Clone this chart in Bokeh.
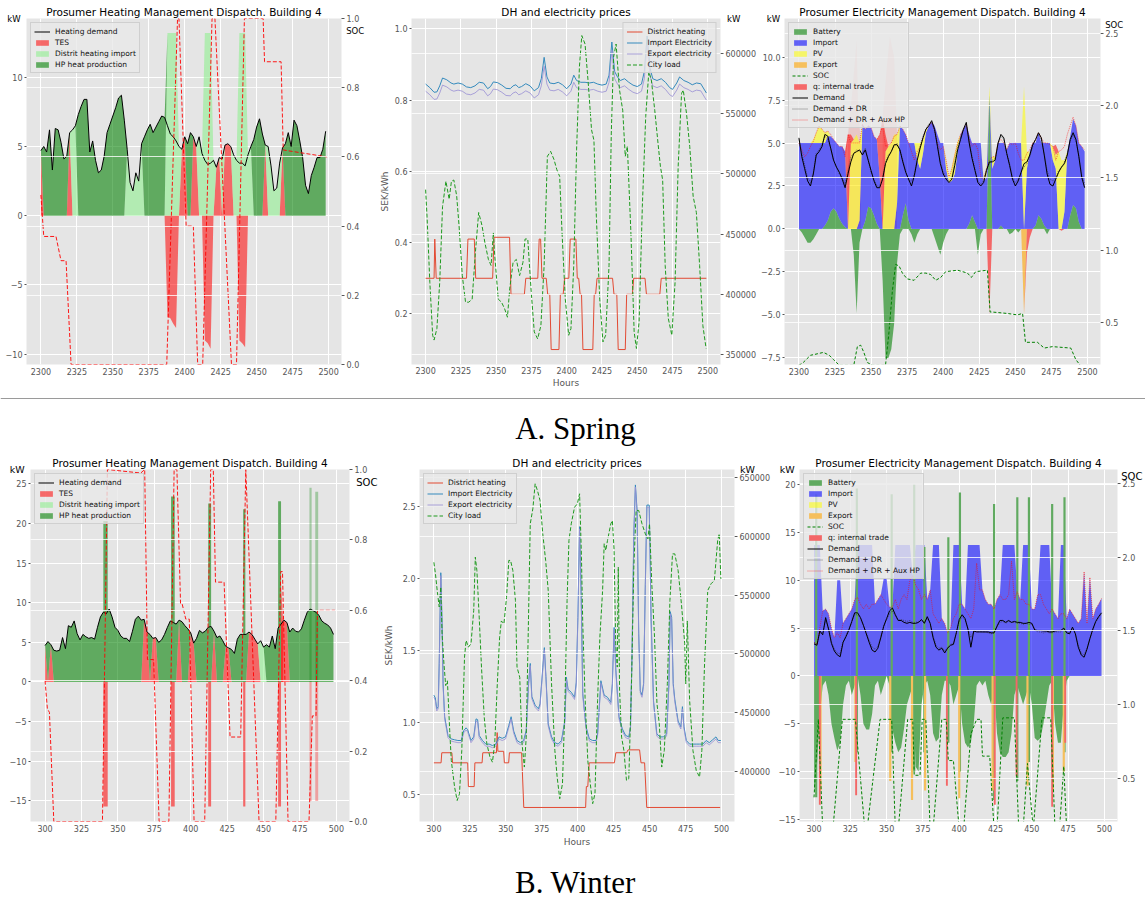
import numpy as np
from bokeh.plotting import figure
from bokeh.models import Range1d, LinearAxis, FixedTicker, Grid, Label, Legend, LegendItem, Span
from bokeh.layouts import column, row
from bokeh.embed import file_html
from bokeh.resources import INLINE

FONT = "DejaVu Sans"
BG = "#E5E5E5"
TICK_C = "#555555"

# ======================= DATA : SPRING =======================
sp_hours = list(range(2300, 2500, 2))

sp_heat_demand = [
    4.7, 5.0, 4.6, 6.2, 3.3, 6.3, 6.2, 5.3, 4.1, 4.3,
    6.0, 6.2, 6.5, 7.3, 7.9, 8.4, 8.4, 4.6, 5.4, 4.0,
    3.1, 3.3, 4.3, 6.0, 6.6, 7.2, 7.8, 8.5, 8.7, 6.9,
    4.8, 2.4, 1.8, 3.1, 2.5, 5.2, 5.7, 6.2, 6.6, 6.0,
    6.4, 6.8, 7.2, 7.1, 6.5, 5.9, 5.7, 5.4, 5.0, 4.8,
    5.7, 5.2, 6.0, 5.7, 5.0, 5.7, 4.5, 4.0, 3.7, 3.8,
    4.0, 3.5, 4.2, 4.1, 5.1, 5.2, 5.0, 4.4, 4.0, 3.8,
    3.8, 3.6, 4.4, 5.0, 5.5, 6.4, 7.0, 5.9, 5.1, 5.0,
    3.6, 1.8, 2.0, 3.8, 4.9, 5.2, 6.0, 5.0, 6.9, 6.5,
    5.4, 4.2, 2.2, 1.6, 2.9, 3.5, 4.2, 4.2, 4.8, 6.1]
# heat source per time step: H = heat pump, D = district heating, T = TES discharge,
# B = DH import block while TES charges
sp_heat_src = "".join([
    "T", "HHHHHHHHH", "T", "DD", "HHHHHHHHHHHHHHHHH", "DDDDDD", "HHHHHHHH",
    "BBBB", "D", "TT", "HH", "TT", "DD", "BBB", "D", "TT", "D", "TTT", "DD",
    "BBB", "DD", "HHHH", "T", "DDDDD", "T", "HHHHHHHHHHHHHHH"])
sp_dh_block = [13.2, 13.2, 13.2, 13.2, 13.2, 13.2, 13.2, 13.2, 13.2, 13.2]
sp_tes_charge = [-7.3, -7.4, -7.8, -8.1, -9.0, -9.2, -9.6, -9.0, -9.2, -9.5]
sp_heat_soc_h = [2300, 2302, 2310.5, 2314, 2317.5, 2321, 2387.5, 2395, 2396, 2401, 2406, 2409,
                 2412.5, 2419, 2421, 2432.5, 2436, 2441.5, 2454.5, 2455.5, 2467, 2468.5, 2499]
sp_heat_soc = [0.49, 0.37, 0.37, 0.30, 0.30, 0.0, 0.0, 1.0, 1.0, 0.40, 0.40, 0.0,
               0.0, 1.0, 1.0, 0.0, 0.0, 1.0, 1.0, 0.875, 0.875, 0.62, 0.60]

sp_dh_price_h = [2300, 2306, 2306.5, 2307.5, 2308, 2329, 2330, 2334.5, 2335.5, 2347.5, 2348.5, 2359.5,
                 2360.5, 2370, 2371, 2379.5, 2380.5, 2381.5, 2382.5, 2385.5, 2386.5, 2388, 2389, 2394.5,
                 2395.5, 2397.5, 2398.5, 2401.5, 2402.5, 2406.5, 2407.5, 2408.5, 2409.5, 2410.5, 2411.5,
                 2418.5, 2419.5, 2420.5, 2421.5, 2432.5, 2433.5, 2435.5, 2436.5, 2441.5, 2442.5, 2446.5,
                 2447.5, 2455.5, 2456.5, 2466, 2467, 2499]
sp_dh_price = [0.30, 0.30, 0.41, 0.30, 0.30, 0.30, 0.41, 0.41, 0.30, 0.30, 0.415, 0.415,
               0.255, 0.255, 0.30, 0.30, 0.41, 0.41, 0.30, 0.30, 0.255, 0.255, 0.10, 0.10,
               0.255, 0.255, 0.30, 0.30, 0.41, 0.41, 0.30, 0.30, 0.255, 0.255, 0.10,
               0.10, 0.255, 0.255, 0.30, 0.30, 0.255, 0.255, 0.10, 0.10, 0.255, 0.255,
               0.30, 0.30, 0.255, 0.255, 0.30, 0.30]
sp_el_price_h = [2300, 2303, 2306, 2308, 2310, 2312, 2315, 2318, 2320, 2323, 2326, 2329, 2332, 2335,
                 2338, 2341, 2344, 2346, 2348, 2351, 2354, 2357, 2360, 2362, 2364, 2366, 2368, 2371,
                 2374, 2377, 2380, 2382, 2384, 2386, 2388, 2391, 2394, 2397, 2400, 2403, 2405, 2407,
                 2410, 2413, 2416, 2419, 2422, 2425, 2428, 2430, 2432, 2434, 2436, 2438, 2441, 2444,
                 2447, 2450, 2453, 2455, 2457, 2459, 2461, 2464, 2467, 2470, 2473, 2475, 2478, 2480,
                 2483, 2486, 2489, 2492, 2495, 2499]
sp_import_price = [0.845, 0.835, 0.822, 0.823, 0.840, 0.862, 0.857, 0.848, 0.845, 0.848, 0.845, 0.837,
                   0.835, 0.840, 0.850, 0.848, 0.832, 0.838, 0.851, 0.849, 0.842, 0.833, 0.832, 0.840,
                   0.843, 0.835, 0.838, 0.846, 0.840, 0.826, 0.835, 0.860, 0.920, 0.865, 0.848, 0.846,
                   0.850, 0.843, 0.832, 0.845, 0.870, 0.855, 0.850, 0.850, 0.848, 0.850, 0.845, 0.842,
                   0.845, 0.870, 0.963, 0.880, 0.865, 0.855, 0.860, 0.850, 0.842, 0.838, 0.845, 0.880,
                   0.980, 0.890, 0.860, 0.855, 0.860, 0.850, 0.835, 0.830, 0.848, 0.865, 0.855, 0.850,
                   0.843, 0.848, 0.846, 0.820]
sp_export_price = [0.825, 0.815, 0.802, 0.803, 0.820, 0.842, 0.837, 0.828, 0.825, 0.828, 0.825, 0.817,
                   0.815, 0.820, 0.830, 0.828, 0.812, 0.818, 0.831, 0.829, 0.822, 0.813, 0.812, 0.820,
                   0.823, 0.815, 0.818, 0.826, 0.820, 0.806, 0.815, 0.840, 0.895, 0.845, 0.828, 0.826,
                   0.830, 0.823, 0.812, 0.825, 0.850, 0.835, 0.830, 0.830, 0.828, 0.830, 0.825, 0.822,
                   0.825, 0.850, 0.940, 0.860, 0.845, 0.835, 0.840, 0.830, 0.822, 0.818, 0.825, 0.860,
                   0.955, 0.870, 0.840, 0.835, 0.840, 0.830, 0.815, 0.810, 0.828, 0.845, 0.835, 0.830,
                   0.823, 0.828, 0.826, 0.800]
sp_load_h = [2300, 2301, 2303, 2305, 2306, 2308, 2310, 2312, 2314.4, 2316.7, 2318.3, 2320, 2322, 2323.7,
             2326, 2328.3, 2330.6, 2333, 2335.3, 2337.6, 2340, 2342, 2344.5, 2346.4, 2348, 2349, 2351.5,
             2353.8, 2356, 2358, 2359.6, 2362, 2364.3, 2366.6, 2369, 2370.5, 2372.4, 2374.7, 2377,
             2379.4, 2381.7, 2384, 2386.3, 2388.6, 2391, 2393, 2395, 2396.7, 2399, 2401.4, 2403, 2405,
             2407, 2409, 2410.7, 2413, 2415.3, 2417.6, 2419.3, 2421, 2423.4, 2425.7, 2427.6, 2430,
             2431.6, 2433.2, 2435, 2437.4, 2439.7, 2441.5, 2443, 2445.5, 2447.8, 2449.4, 2451.3, 2453.6,
             2456, 2458.2, 2460, 2462.4, 2464.7, 2466.4, 2468, 2469.8, 2472, 2474.5, 2476.8, 2479,
             2481.4, 2482.6, 2484.9, 2487.2, 2489.6, 2491.9, 2494.2, 2496.5, 2498.8]
sp_load = [487000, 465000, 410000, 366000, 362000, 371500, 410000, 473000, 494000, 479000, 494000,
           495000, 482000, 457000, 415600, 393500, 393500, 396000, 435000, 468000, 457000, 443000,
           429000, 424000, 451000, 432000, 396000, 393500, 388000, 381000, 404500, 426600, 429000,
           415600, 426600, 446000, 446000, 404500, 368800, 363000, 374000, 424000, 514700, 518800,
           512000, 503600, 498000, 451000, 396000, 366000, 371500, 424000, 520000, 589000, 615000,
           608000, 575000, 536700, 528000, 465000, 396000, 360500, 366000, 424000, 534000, 597000,
           608000, 570000, 553000, 514700, 523000, 451000, 368800, 355000, 377000, 473000, 547700,
           585000, 578000, 553000, 525700, 506400, 495000, 424000, 380000, 366000, 410000, 506400,
           567000, 569700, 550400, 523000, 481600, 468000, 424000, 374000, 355000]

sp_el_demand = [
    5.3, 4.2, 3.5, 2.8, 2.5, 3.2, 4.3, 4.5, 4.8, 5.5,
    5.4, 4.7, 4.0, 3.6, 3.3, 2.9, 2.4, 3.2, 3.9, 4.4,
    4.5, 4.6, 4.3, 4.6, 4.0, 3.4, 2.8, 2.4, 2.4, 2.9,
    3.8, 4.2, 4.5, 4.9, 4.9, 4.6, 3.9, 3.3, 2.9, 2.5,
    3.1, 4.0, 4.7, 5.3, 5.8, 6.0, 6.3, 5.8, 4.8, 3.8,
    3.2, 2.9, 2.7, 2.9, 3.7, 4.6, 5.2, 5.8, 6.2, 5.0,
    4.1, 3.4, 2.7, 2.5, 2.7, 3.4, 3.9, 3.9, 4.0, 5.0,
    5.5, 5.3, 4.4, 3.7, 2.9, 2.5, 2.8, 3.3, 3.8, 3.9,
    4.3, 4.9, 5.2, 5.6, 5.3, 4.3, 3.2, 2.6, 2.5, 2.9,
    3.3, 3.6, 3.8, 4.3, 5.2, 5.6, 5.2, 4.2, 3.0, 2.4]
sp_el_dr = [
    5.2, 4.4, 3.7, 3.0, 2.7, 3.3, 4.4, 4.6, 4.9, 5.4,
    5.2, 4.7, 4.0, 3.6, 3.2, 3.0, 2.6, 3.4, 4.2, 4.4,
    4.6, 4.5, 4.4, 4.7, 4.0, 3.3, 2.9, 2.5, 2.5, 3.0,
    3.9, 4.3, 4.5, 4.8, 5.0, 4.6, 4.0, 3.4, 2.8, 2.8,
    3.2, 4.1, 4.8, 5.4, 5.8, 6.1, 6.2, 5.7, 4.9, 3.9,
    3.3, 3.0, 2.8, 3.0, 3.9, 4.8, 5.3, 5.8, 6.0, 5.1,
    4.2, 3.5, 2.8, 2.6, 2.8, 3.5, 3.8, 4.0, 4.1, 5.0,
    5.4, 5.2, 4.4, 3.8, 3.0, 2.7, 2.9, 3.3, 3.6, 3.8,
    4.2, 4.8, 5.2, 5.5, 5.2, 4.4, 3.4, 2.9, 2.8, 3.0,
    3.4, 3.6, 3.9, 4.4, 5.1, 5.5, 5.1, 4.3, 3.1, 2.6]
sp_el_aux = [
    5.0, 4.6, 4.2, 4.4, 4.8, 5.1, 5.6, 6.0, 5.8, 5.6,
    5.7, 5.5, 5.2, 5.0, 4.8, 4.8, 4.2, 5.5, 5.0, 5.0,
    5.0, 5.0, 6.1, 5.8, 6.0, 5.9, 5.4, 5.2, 5.5, 6.0,
    4.8, 4.9, 5.0, 5.4, 5.5, 6.0, 5.8, 5.5, 5.0, 4.5,
    4.0, 4.5, 4.8, 5.3, 5.8, 6.0, 6.2, 5.8, 5.0, 4.6,
    4.8, 4.0, 3.0, 3.5, 4.3, 5.0, 5.5, 5.8, 6.1, 5.2,
    4.8, 5.0, 4.6, 3.0, 2.9, 3.5, 4.0, 4.2, 4.2, 5.0,
    5.2, 5.0, 4.6, 5.0, 4.9, 5.0, 4.4, 4.0, 4.0, 4.4,
    4.6, 5.0, 5.2, 5.6, 5.3, 5.0, 5.0, 4.9, 4.8, 4.0,
    4.5, 4.6, 4.8, 5.5, 6.0, 6.5, 6.0, 5.0, 4.8, 4.6]
sp_el_battery = [
    0.0, -0.2, -0.5, -0.8, -0.8, -0.6, -0.3, 0.0, 0.0, 0.2,
    0.5, 1.0, 1.2, 1.0, 0.6, 0.3, 0.1, 0.0, 0.0, -1.5,
    -4.9, -0.8, 0.0, 0.5, 1.3, 1.2, 0.8, 0.3, 0.0, -3.0,
    -7.5, -7.5, -7.0, -5.5, -2.0, -0.3, 0.8, 1.5, 0.5, -0.3,
    -0.8, -0.3, 0.0, 0.0, 0.0, 0.0, 0.0, -0.5, -1.0, -1.5,
    -0.8, -0.3, 0.0, 0.0, 0.0, 0.0, 0.0, 0.0, 0.0, 0.3,
    0.8, 0.4, -1.5, -0.3, 0.0, 0.0, 7.8, 0.0, 0.0, 0.0,
    0.2, 0.0, 0.0, -0.3, -0.2, 0.0, -0.2, 0.0, 0.0, 0.0,
    0.0, 0.0, 0.2, 0.8, 0.6, 0.2, -0.3, 0.0, 0.0, 0.0,
    0.0, 0.0, 0.0, 0.0, 0.8, 1.4, 1.2, 0.4, 0.0, 0.0]
sp_el_import = [
    5.0, 5.0, 5.0, 5.0, 5.0, 5.0, 5.0, 5.0, 5.0, 4.8,
    4.9, 4.4, 4.0, 4.0, 4.2, 4.5, 4.4, 0.0, 0.0, 0.0,
    0.0, 0.5, 6.1, 5.3, 4.7, 4.7, 4.6, 4.9, 3.0, 0.0,
    0.0, 0.0, 0.0, 0.0, 1.5, 6.0, 5.0, 4.0, 4.5, 5.0,
    5.0, 4.0, 3.5, 4.4, 5.6, 6.0, 6.2, 6.0, 5.5, 5.0,
    5.0, 3.5, 2.7, 2.8, 3.2, 4.5, 5.5, 5.8, 6.1, 5.2,
    4.2, 4.6, 5.0, 5.0, 2.8, 3.0, 0.0, 3.5, 4.0, 5.0,
    4.8, 5.0, 4.6, 5.0, 5.0, 5.0, 5.0, 5.0, 0.0, 3.5,
    4.5, 5.0, 4.8, 4.8, 4.4, 4.8, 5.0, 5.0, 4.0, 3.5,
    0.0, 0.0, 1.0, 4.5, 4.6, 5.0, 4.8, 4.6, 4.8, 4.5]
sp_el_pv = [
    0.0, 0.0, 0.0, 0.0, 0.0, 0.2, 0.6, 1.0, 0.8, 0.6,
    0.3, 0.0, 0.0, 0.0, 0.0, 0.0, 0.0, 0.0, 5.0, 5.2,
    5.5, 4.5, 0.0, 0.0, 0.0, 0.0, 0.0, 0.0, 0.0, 0.0,
    4.5, 4.8, 5.0, 5.5, 4.0, 0.0, 0.0, 0.0, 0.0, 0.0,
    0.0, 1.0, 1.5, 0.8, 0.2, 0.0, 0.0, 0.0, 0.0, 0.0,
    0.0, 0.5, 0.3, 0.8, 1.2, 0.6, 0.0, 0.0, 0.0, 0.0,
    0.0, 0.0, 0.0, 0.0, 0.2, 0.5, 0.5, 0.7, 0.2, 0.0,
    0.0, 0.0, 0.0, 0.0, 0.0, 0.0, 0.0, 0.0, 8.3, 1.0,
    0.0, 0.0, 0.0, 0.0, 0.0, 0.0, 0.0, 0.0, 0.8, 0.8,
    4.5, 4.0, 3.0, 0.0, 0.0, 0.0, 0.0, 0.0, 0.0, 0.0]
sp_el_trade = [
    0.0, 0.0, 0.0, 0.0, 0.0, 0.0, 0.0, 0.0, 0.0, 0.0,
    0.0, 0.0, 0.0, 0.0, 0.0, 0.0, 0.0, 5.5, 0.5, 0.0,
    0.0, 0.0, 0.0, 0.0, 0.0, 0.0, 0.0, 0.0, 2.5, 6.5,
    1.0, 0.0, 0.0, 0.0, 0.0, 0.0, 0.0, 0.0, 0.0, 0.0,
    0.0, 0.0, 0.0, 0.0, 0.0, 0.0, 0.0, 0.0, 0.0, 0.0,
    0.0, 0.0, 0.0, 0.0, 0.0, 0.0, 0.0, 0.0, 0.0, 0.0,
    0.0, 0.0, 0.0, 0.0, 0.0, 0.0, -5.0, 0.0, 0.0, 0.0,
    0.0, 0.0, 0.0, 0.0, 0.0, 0.0, 0.0, 0.0, 0.0, -1.4,
    -0.5, 0.0, 0.0, 0.0, 0.0, 0.0, 0.0, 0.0, 0.0, 0.6,
    0.0, -0.1, 0.0, 0.0, 0.0, 0.0, 0.0, 0.0, 0.0, 0.0]
sp_el_export = [
    0.0, 0.0, 0.0, 0.0, 0.0, 0.0, 0.0, 0.0, 0.0, 0.0,
    0.0, 0.0, 0.0, 0.0, 0.0, 0.0, 0.0, 0.0, 0.0, 0.0,
    0.0, 0.0, 0.0, 0.0, 0.0, 0.0, 0.0, 0.0, 0.0, 0.0,
    0.0, 0.0, 0.0, 0.0, 0.0, 0.0, 0.0, 0.0, 0.0, 0.0,
    0.0, 0.0, 0.0, 0.0, 0.0, 0.0, 0.0, 0.0, 0.0, 0.0,
    0.0, 0.0, 0.0, 0.0, 0.0, 0.0, 0.0, 0.0, 0.0, 0.0,
    0.0, 0.0, 0.0, 0.0, 0.0, 0.0, 0.0, 0.0, 0.0, 0.0,
    0.0, 0.0, 0.0, 0.0, 0.0, 0.0, 0.0, 0.0, -5.0, 0.0,
    0.0, 0.0, 0.0, 0.0, 0.0, 0.0, 0.0, 0.0, 0.0, 0.0,
    0.0, 0.0, 0.0, 0.0, 0.0, 0.0, 0.0, 0.0, 0.0, 0.0]
sp_ghost1_h = [2334, 2337, 2340, 2341, 2343]
sp_ghost1 = [5.5, 8.0, 11.0, 7.0, 5.0]
sp_ghost2_h = [2358, 2361, 2363, 2366, 2368]
sp_ghost2 = [6.5, 9.5, 11.2, 10.0, 5.5]
sp_el_soc_h = [2300, 2303, 2308, 2310.5, 2317, 2321, 2324, 2328, 2338, 2340.5, 2342.8, 2345, 2347.4,
               2351, 2360, 2362.4, 2364.7, 2367, 2369.4, 2371.7, 2375, 2379.8, 2384.4, 2388, 2391.3,
               2394.8, 2398.3, 2401.7, 2410, 2416.8, 2419.5, 2422.5, 2430.6, 2432.5, 2434, 2444.5,
               2451.4, 2455, 2457, 2465.3, 2470, 2475.7, 2488.4, 2491.9, 2495, 2499]
sp_el_soc = [0.20, 0.22, 0.27, 0.275, 0.29, 0.27, 0.24, 0.20, 0.20, 0.33, 0.34, 0.29, 0.22,
             0.20, 0.20, 0.43, 0.71, 0.90, 0.89, 0.84, 0.80, 0.79, 0.84, 0.84, 0.83,
             0.79, 0.81, 0.85, 0.86, 0.84, 0.81, 0.85, 0.86, 0.57, 0.57, 0.56,
             0.55, 0.56, 0.36, 0.36, 0.32, 0.33, 0.32, 0.24, 0.20, 0.12]

# ======================= DATA : WINTER =======================
w_hours = list(range(300, 500, 2))
w_heat_demand = [
    4.6, 5.1, 4.7, 4.0, 3.9, 4.0, 5.6, 4.2, 7.1, 6.9,
    7.7, 6.1, 5.3, 6.0, 5.7, 5.5, 5.6, 5.4, 6.9, 8.2,
    8.8, 8.6, 9.2, 8.2, 6.9, 6.5, 5.8, 5.5, 5.5, 5.1,
    6.4, 7.9, 8.3, 7.8, 7.9, 6.3, 6.0, 5.5, 5.6, 5.0,
    5.3, 6.0, 6.9, 7.7, 7.5, 7.3, 7.8, 7.6, 7.1, 6.7,
    6.2, 4.9, 5.5, 6.5, 6.2, 6.4, 6.9, 7.0, 6.4, 5.6,
    5.8, 5.2, 4.5, 4.3, 4.1, 3.6, 5.4, 6.0, 6.0, 6.0,
    6.3, 6.0, 5.4, 4.8, 5.2, 4.4, 4.7, 4.4, 5.8, 4.2,
    6.8, 7.3, 7.8, 7.5, 6.3, 6.8, 6.4, 6.3, 6.7, 7.8,
    8.8, 9.2, 9.0, 8.8, 8.4, 7.7, 7.4, 7.2, 6.8, 6.0]
w_heat_src = "".join([
    "T", "H", "T", "H", "HHHHHHHHHHHHHHHHHHHHHHHHHHHHHH", "TT", "H", "TT", "HHHHHHH", "T", "HHH",
    "TT", "HHHHHH", "T", "HHH", "TT", "HHHHHH", "TTTT", "DD", "HHHHH", "TTT", "HHHHHHHHHHHHHHHH"])
w_spike_left = [340, 386.5, 412, 436, 460, 481.5, 485.5]
w_spike_right = [343, 389, 414, 437.5, 462, 483, 487.5]
w_hp_spike_top = [20.3, 23.4, 22.5, 21.8, 22.8, 24.5, 24.0]
w_tes_spike_bottom = [-15.7, -15.7, -15.7, -15.7, -15.7, -15.0, -15.0]
w_tes_peak_h = [460.5, 461.5, 463.5]
w_tes_peak = [7.0, 13.8, 7.5]
w_heat_soc_h = [300, 301.6, 303, 306, 339.4, 342.8, 365.7, 368.4, 370.3, 374.5, 378.3, 385,
                388.6, 390.5, 393, 394, 396.6, 399, 402.3, 409.6, 413.7, 415.5, 417, 422.9,
                427, 434.3, 437.8, 446.9, 458.4, 461.8, 463, 466.8, 481.2, 483.5, 486, 487, 499]
w_heat_soc = [0.40, 0.32, 0.31, 0.0, 0.0, 1.0, 0.99, 1.0, 0.46, 0.46, 0.0, 0.0,
              1.0, 1.0, 0.62, 0.62, 0.575, 0.575, 0.0, 0.0, 1.0, 1.0, 0.68, 0.68,
              0.24, 0.24, 1.0, 0.0, 0.0, 0.71, 0.71, 0.0, 0.0, 0.30, 0.30, 0.60, 0.60]

w_dh_price_h = [300, 305, 305.5, 312.5, 313, 323.5, 324, 328, 328.5, 333.5, 334, 343.5, 344, 344.5,
                345, 348.5, 349, 352, 352.5, 361, 362.5, 405.5, 406, 407, 408, 425.5, 426.5, 434,
                435, 443, 444, 446.5, 448, 499]
w_dh_price = [0.72, 0.72, 0.79, 0.79, 0.72, 0.72, 0.555, 0.555, 0.72, 0.72, 0.79, 0.79, 0.93, 0.80,
              0.80, 0.80, 0.72, 0.72, 0.79, 0.79, 0.41, 0.41, 0.555, 0.555, 0.72, 0.72, 0.79, 0.79,
              0.81, 0.81, 0.72, 0.72, 0.41, 0.41]
w_el_price_h = [300, 301, 302, 303, 303.7, 304.8, 305.7, 306.4, 307.5, 309.8, 312, 314.4, 316.7, 319,
                320.8, 322.4, 323.5, 325.8, 327.7, 329.3, 330.4, 331.5, 333.8, 336.1, 338.4, 340.7,
                343, 345.3, 347.5, 349.8, 352.1, 353.7, 355.5, 357.8, 360.1, 362.4, 364.2, 365.8,
                367, 368.1, 370.4, 372.7, 373.8, 375.7, 376.8, 377.9, 379.5, 381.8, 384.1, 386.4,
                388.7, 391, 392.1, 393.3, 395.5, 397.8, 399, 400.1, 401.3, 402.4, 403.5, 405.8,
                408.1, 410.4, 412.7, 413.8, 415, 416.1, 418.4, 420.7, 423, 424.1, 425.3, 426.4,
                428.7, 431, 433.3, 435.5, 436.7, 437.8, 439, 440.1, 441.3, 442.4, 443.5, 444.7,
                445.8, 447, 448.1, 449.7, 451, 452.7, 455, 457.3, 459.5, 461.8, 463.4, 464.3,
                465.3, 466.4, 467.5, 469.8, 471.7, 472.8, 473.9, 475.5, 477.8, 480.1, 482.4,
                484.7, 487, 489.3, 491.5, 493.8, 496.1, 497.7, 499.5]
w_import_price = [1.19, 1.17, 1.095, 1.11, 1.41, 2.04, 1.69, 1.27, 1.04, 0.91, 0.886, 0.88, 0.875,
                  0.875, 0.944, 0.963, 0.95, 0.875, 0.90, 1.025, 1.02, 0.91, 0.875, 0.85, 0.85, 0.84,
                  0.85, 0.90, 0.89, 0.90, 0.98, 1.04, 0.94, 0.875, 0.86, 0.875, 0.944, 1.27, 1.41,
                  1.18, 1.12, 1.095, 1.13, 1.38, 1.52, 1.32, 0.99, 0.90, 0.86, 0.85, 0.875, 1.01,
                  1.315, 1.23, 1.21, 1.175, 1.28, 1.73, 2.36, 1.89, 1.20, 0.97, 0.886, 0.875, 0.875,
                  0.92, 1.11, 1.29, 1.19, 1.175, 1.14, 1.27, 1.66, 1.38, 1.04, 0.956, 0.91, 0.90,
                  0.97, 1.5, 2.31, 2.65, 2.47, 1.62, 1.22, 1.19, 1.27, 1.96, 2.51, 2.51, 1.73, 1.15,
                  0.92, 0.90, 0.90, 0.92, 1.27, 1.77, 1.73, 1.27, 1.16, 1.01, 0.97, 1.11, 0.97,
                  0.875, 0.85, 0.85, 0.85, 0.85, 0.85, 0.875, 0.86, 0.88, 0.90, 0.875, 0.875]
w_export_price = [1.175, 1.155, 1.08, 1.095, 1.395, 2.02, 1.675, 1.255, 1.025, 0.895, 0.871, 0.865,
                  0.86, 0.86, 0.929, 0.948, 0.935, 0.86, 0.885, 1.01, 1.005, 0.895, 0.86, 0.835,
                  0.835, 0.825, 0.835, 0.885, 0.875, 0.885, 0.965, 1.025, 0.925, 0.86, 0.845, 0.86,
                  0.929, 1.255, 1.395, 1.165, 1.105, 1.08, 1.115, 1.365, 1.505, 1.305, 0.975, 0.885,
                  0.845, 0.835, 0.86, 0.995, 1.3, 1.215, 1.195, 1.16, 1.265, 1.715, 2.345, 1.875,
                  1.185, 0.955, 0.871, 0.86, 0.86, 0.905, 1.095, 1.275, 1.175, 1.16, 1.125, 1.255,
                  1.645, 1.365, 1.025, 0.941, 0.895, 0.885, 0.955, 1.485, 2.295, 2.635, 2.455, 1.605,
                  1.205, 1.175, 1.255, 1.945, 2.495, 2.495, 1.715, 1.135, 0.905, 0.885, 0.885, 0.905,
                  1.255, 1.755, 1.715, 1.255, 1.145, 0.995, 0.955, 1.095, 0.955, 0.86, 0.835, 0.835,
                  0.835, 0.835, 0.835, 0.86, 0.845, 0.865, 0.885, 0.86, 0.86]
w_load_h = [300, 301.1, 302.3, 303.7, 304.8, 305.7, 307, 308.2, 309.4, 311, 312.1, 314.4, 316.2,
            317.8, 319.4, 321.3, 322.4, 324, 325.8, 327.7, 328.8, 329.9, 331.5, 333.1, 335, 336.8,
            339, 340.7, 342.3, 344.1, 345.7, 346.9, 348.7, 350.5, 352.1, 353.3, 354.9, 356.7,
            357.8, 359.7, 361.3, 362.9, 364.2, 365.8, 367, 368.8, 370.4, 372, 373.8, 375.7, 377.7,
            379.5, 381.8, 384.1, 385.7, 387.5, 389.4, 391, 392.6, 393.9, 395.5, 397.8, 399.7,
            401.3, 402.6, 403.5, 405.1, 407, 408.6, 410.4, 412, 413.8, 415.4, 417.3, 418.4, 419.5,
            420.7, 423, 424.1, 425.3, 426.4, 427.5, 428.2, 429.1, 430.5, 432.1, 433.9, 435.5,
            437.4, 439, 440.6, 442.4, 444.7, 447, 448.8, 449.9, 451.5, 453.3, 455.1, 456.7, 458.4,
            460.2, 462.3, 464.1, 465.9, 467.5, 469.8, 472.1, 474.4, 475.1, 476.2, 477.8, 480.1,
            482.4, 484.7, 486.3, 488.1, 490.4, 492.7, 495, 497.3, 498.4, 499.5]
w_load = [578000, 568000, 554000, 540000, 557000, 517000, 491500, 473000, 477000, 434700, 409000,
          386400, 375000, 380800, 417700, 497200, 511400, 505700, 508600, 537000, 582400, 571000,
          531300, 488700, 446000, 423400, 412000, 407700, 423400, 474500, 514200, 528000, 525600,
          548000, 579600, 579600, 571000, 545500, 488700, 480000, 423400, 403500, 429000, 531300,
          610800, 623600, 644900, 639200, 630700, 602300, 579600, 554000, 474500, 417700, 395000,
          376500, 389300, 451800, 545500, 596600, 610800, 625000, 627800, 636400, 582400, 525600,
          463100, 409200, 390700, 372300, 380800, 460300, 514200, 554000, 593800, 588100, 596600,
          610800, 613600, 588100, 508600, 488700, 574000, 468800, 429000, 417700, 392100, 393600,
          474500, 573900, 622200, 622200, 610800, 602300, 598000, 610800, 559700, 517100, 457400,
          440400, 403500, 417700, 474500, 545500, 585200, 585200, 571000, 542600, 508600, 474500,
          528000, 460300, 417700, 400600, 395000, 417700, 488700, 554000, 559700, 562500, 596600,
          602300, 563900]

w_el_demand = [
    3.35, 3.2, 4.7, 4.3, 6.1, 4.9, 3.4, 2.6, 2.2, 2.0,
    3.5, 4.1, 4.8, 5.7, 6.6, 6.6, 6.1, 5.3, 4.4, 3.5,
    2.7, 2.5, 2.9, 4.0, 5.2, 6.0, 6.8, 7.1, 6.4, 5.8,
    5.8, 5.6, 5.5, 5.6, 5.5, 5.5, 5.6, 5.9, 5.5, 6.2,
    5.5, 4.0, 3.0, 2.7, 2.9, 2.4, 2.9, 3.2, 3.3, 4.5,
    5.9, 6.4, 6.0, 4.9, 3.0, 4.7, 4.6, 4.6, 4.6, 4.6,
    4.6, 4.5, 4.5, 5.2, 5.8, 5.8, 5.6, 5.8, 5.6, 5.7,
    5.6, 5.6, 5.5, 5.5, 5.6, 5.5, 4.8, 4.75, 4.75, 4.7,
    4.7, 4.6, 4.6, 4.7, 4.75, 4.75, 5.0, 4.5, 4.4, 5.1,
    4.4, 3.0, 2.2, 1.95, 2.8, 3.9, 4.9, 5.7, 6.2, 6.6]
w_el_dr = [
    3.5, 3.3, 4.5, 4.5, 5.8, 5.0, 3.6, 2.8, 2.4, 2.3,
    3.6, 4.2, 4.9, 5.6, 6.4, 6.4, 6.0, 5.3, 4.5, 3.7,
    3.0, 2.8, 3.1, 4.1, 5.2, 5.9, 6.5, 6.8, 6.3, 5.8,
    5.9, 5.8, 5.7, 5.8, 5.6, 5.6, 5.7, 5.8, 5.6, 6.0,
    5.5, 4.2, 3.2, 2.9, 3.0, 2.6, 3.0, 3.3, 3.4, 4.5,
    5.7, 6.2, 5.9, 5.0, 4.0, 4.6, 4.7, 4.7, 4.6, 4.6,
    4.5, 4.4, 4.5, 5.1, 5.6, 5.7, 5.5, 5.7, 5.6, 5.6,
    5.5, 5.5, 5.4, 5.5, 5.4, 5.4, 4.9, 4.6, 4.6, 4.5,
    4.6, 4.5, 4.5, 4.6, 4.6, 4.6, 4.9, 4.6, 4.5, 4.9,
    4.4, 3.2, 2.4, 2.2, 2.9, 3.9, 4.8, 5.6, 6.1, 6.5]
w_el_aux = [
    3.5, 3.3, 5.0, 6.8, 7.0, 6.5, 5.0, 4.0, 4.5, 4.0,
    5.5, 6.0, 6.5, 7.0, 8.0, 8.2, 7.5, 7.0, 7.5, 7.0,
    7.5, 7.5, 8.0, 8.5, 8.0, 7.5, 7.2, 7.2, 8.0, 7.0,
    8.0, 8.5, 8.0, 10.0, 10.5, 9.5, 9.0, 8.0, 8.5, 8.0,
    9.0, 6.5, 6.0, 5.5, 6.0, 5.5, 4.5, 5.0, 6.0, 6.5,
    7.5, 7.5, 7.0, 6.5, 6.0, 7.0, 11.8, 9.0, 9.0, 8.0,
    7.5, 7.5, 7.0, 8.0, 8.5, 8.0, 8.0, 8.5, 12.0, 8.0,
    8.8, 8.0, 8.0, 7.5, 7.5, 7.0, 7.0, 8.5, 8.5, 7.5,
    7.0, 6.5, 7.0, 6.5, 6.0, 6.5, 6.5, 6.0, 7.0, 6.5,
    6.0, 5.5, 6.0, 10.9, 5.5, 10.3, 6.0, 7.0, 7.5, 8.1]
w_el_import = [
    13.7, 13.7, 13.7, 6.8, 7.0, 6.5, 5.0, 4.0, 10.0, 10.0,
    5.5, 6.0, 6.5, 7.0, 8.0, 13.7, 13.7, 13.7, 13.7, 13.7,
    13.7, 7.5, 8.0, 8.5, 10.2, 10.2, 7.2, 7.2, 13.7, 13.7,
    13.7, 13.7, 13.7, 13.7, 10.5, 13.7, 13.7, 13.7, 13.7, 8.0,
    9.0, 13.7, 13.7, 13.7, 6.0, 5.5, 4.5, 5.0, 13.7, 13.7,
    13.7, 7.5, 7.0, 13.7, 13.7, 13.7, 13.7, 13.7, 9.0, 8.0,
    7.5, 7.5, 7.0, 8.0, 8.5, 13.7, 13.7, 13.7, 13.7, 13.7,
    8.8, 8.0, 13.7, 13.7, 13.7, 7.0, 7.0, 8.5, 13.7, 13.7,
    13.7, 13.7, 7.0, 6.5, 6.0, 13.7, 13.7, 6.0, 7.0, 6.5,
    6.0, 5.5, 6.0, 10.9, 5.5, 10.3, 6.0, 7.0, 7.5, 8.1]
w_el_battery_charge = [
    -12.5, -9.5, -4.0, -1.0, -0.5, -2.0, -5.0, -6.5, -7.8, -7.0,
    -3.0, -1.0, -0.5, -2.0, -1.0, 0.0, -2.0, -5.0, -5.6, -5.6,
    -4.0, -1.0, -0.5, -2.0, -1.0, 0.0, -1.0, -5.6, -7.0, -8.0,
    -7.5, -5.5, -3.0, -2.0, -1.0, -9.5, -10.0, -3.0, -1.0, -0.5,
    -2.0, -6.0, -6.9, -6.5, -2.0, -0.5, -0.5, -1.0, -3.0, -2.0,
    -1.0, -5.0, -7.0, -7.5, -7.0, -5.0, -1.0, -0.5, -1.0, -0.5,
    -2.0, -3.0, -1.0, -6.0, -8.0, -8.5, -8.5, -8.0, -6.0, -2.0,
    -1.0, -2.0, -3.0, -2.0, -1.0, -3.0, -6.5, -6.8, -6.5, -5.0,
    -3.0, -1.0, -0.5, -5.0, -7.0, -7.0, -3.0, -0.5, 0.0, 0.0,
    0.0, 0.0, 0.0, 0.0, 0.0, 0.0, 0.0, 0.0, 0.0, 0.0]
w_bat_spike_h = [301.5, 329.5, 353.5, 369, 376, 392.5, 400.5, 424, 440, 448, 464, 472.5]
w_bat_spike_top = [19.0, 19.6, 19.0, 20.0, 13.5, 14.5, 19.2, 18.0, 18.7, 18.7, 18.0, 18.7]
w_bat_spike_bottom = [-12.7, -8.0, -8.0, -10.0, -8.0, -7.0, -10.0, -13.0, -11.0, -9.0, -10.0, -8.0]
w_export_spike_h = [304.5, 328.5, 352.5, 367.5, 376.5, 400, 423, 447, 464.5, 472]
w_export_spike = [-12.0, -9.0, -11.0, -13.0, -12.0, -12.8, -12.0, -11.5, -12.0, -10.0]
w_trade_spike_h = [304, 329, 391.5, 424.5, 439.5, 464, 473]
w_trade_spike = [-13.5, -12.5, -11.5, -13.5, -10.5, -13.7, -7.0]
w_el_soc_h = [300, 303, 306, 313, 319.5, 328.5, 335, 336.5, 345.5, 353.5, 356, 358, 364.5, 368,
              369, 373, 374.5, 377, 380, 382, 388, 391, 392.5, 396, 400, 403, 408, 412, 415, 416,
              421, 424, 426, 430, 438, 441, 444, 447, 451, 457, 463, 466, 469, 472, 474, 499]
w_el_soc = [0.37, 0.90, 0.15, 0.15, 0.90, 0.90, 0.15, 0.15, 0.90, 0.90, 0.15, 0.15, 0.90, 0.90,
            0.52, 0.52, 0.90, 0.90, 0.15, 0.15, 0.90, 0.90, 0.62, 0.62, 0.15, 0.15, 0.80, 0.90,
            0.90, 0.65, 0.65, 0.15, 0.15, 0.91, 0.91, 0.15, 0.15, 0.60, 0.15, 0.91, 0.91, 0.15,
            0.15, 0.58, 0.15, 0.15]

# ======================= HELPERS =======================
C_RED, C_LGREEN, C_GREEN = "#FF0000", "#90EE90", "#008000"
C_BLUE, C_YELLOW, C_ORANGE = "#0000FF", "#FFFF00", "#FFA500"
# the same colours as they appear when laid over the grey background
C_GREEN_SOLID, C_RED_SOLID, C_ORANGE_SOLID = "#60AA60", "#F36767", "#F5BF5C"


def fit(*arrs):
    n = min(len(a) for a in arrs)
    return [np.asarray(list(a)[:n], dtype=float) for a in arrs]


def key(t):
    return int(t) if float(t).is_integer() else t


def fmt(t, dec):
    return f"{t:.{dec}f}".replace("-", "\u2212")


def safe_set(obj, **kw):
    for k, v in kw.items():
        try:
            setattr(obj, k, v)
        except Exception:
            pass


def corner_label(ax, text, size, standoff):
    ax.axis_label = text
    ax.axis_label_text_font = FONT
    ax.axis_label_text_font_size = size
    ax.axis_label_text_font_style = "normal"
    ax.axis_label_text_color = "black"
    ax.axis_label_standoff = standoff
    safe_set(ax, axis_label_orientation="horizontal")
    safe_set(ax, axis_label_align="end")


def side_label(ax, text, standoff):
    ax.axis_label = text
    ax.axis_label_text_font = FONT
    ax.axis_label_text_font_size = "9px"
    ax.axis_label_text_font_style = "normal"
    ax.axis_label_text_color = TICK_C
    ax.axis_label_standoff = standoff


def make_fig(w, h, borders, title, xr, yr, yr2, xt, xdec, yt, ydec, y2t, y2dec):
    bl, br, bt, bb = borders
    p = figure(width=w, height=h, x_range=Range1d(*xr), y_range=Range1d(*yr),
               output_backend="svg", toolbar_location=None, title=title,
               min_border_left=bl, min_border_right=br, min_border_top=bt, min_border_bottom=bb)
    p.title.align = "center"
    p.title.text_font = FONT
    p.title.text_font_size = "10.5px"
    p.title.text_font_style = "normal"
    p.title.text_color = "black"
    p.title.standoff = 2
    p.extra_y_ranges = {"r": Range1d(*yr2)}
    p.background_fill_color = BG
    p.border_fill_color = "white"
    p.outline_line_color = None
    ax2 = LinearAxis(y_range_name="r")
    p.add_layout(ax2, "right")
    axes = [(p.xaxis[0], xt, xdec), (p.yaxis[0], yt, ydec), (ax2, y2t, y2dec)]
    for ax, ticks, dec in axes:
        ax.ticker = FixedTicker(ticks=ticks)
        ax.major_label_overrides = {key(t): fmt(t, dec) for t in ticks}
        ax.axis_line_color = None
        ax.minor_tick_line_color = None
        ax.major_tick_line_color = TICK_C
        ax.major_tick_line_width = 1
        ax.major_tick_in = 0
        ax.major_label_text_color = TICK_C
        ax.major_label_text_font = FONT
        ax.major_label_text_font_size = "8px"
    p.xaxis[0].major_tick_line_color = None
    p.xaxis[0].major_tick_out = 0
    p.xaxis[0].major_label_standoff = 3
    p.yaxis[0].major_tick_out = 2
    p.yaxis[0].major_label_standoff = 2
    ax2.major_tick_out = 3
    ax2.major_label_standoff = 2
    p.xgrid.ticker = FixedTicker(ticks=xt)
    p.ygrid.ticker = FixedTicker(ticks=yt)
    for g in (p.xgrid[0], p.ygrid[0]):
        g.grid_line_color = "white"
        g.grid_line_width = 1
    g2 = Grid(dimension=1, ticker=FixedTicker(ticks=y2t), y_range_name="r",
              grid_line_color="white", grid_line_width=1, grid_line_alpha=0.8, level="annotation")
    p.add_layout(g2)
    return p, p.yaxis[0], ax2


def add_legend(p, items, loc):
    lg = Legend(items=[LegendItem(label=l, renderers=[r]) for l, r in items], location=loc,
                label_text_font=FONT, label_text_font_size="7.5px", label_text_color="#111111",
                label_height=10, glyph_height=7, glyph_width=16, spacing=1, padding=3, margin=4,
                label_standoff=5, background_fill_color="#E8E8E8", background_fill_alpha=0.8,
                border_line_color="#CCCCCC", border_line_alpha=0.9, border_line_width=1)
    p.add_layout(lg)


def heat_panel(p, hours, demand, src, block_dh, block_tes):
    x, D = fit(hours, demand)
    codes = np.array(list(src.ljust(len(x), "H")[:len(x)]))
    tes = np.where(codes == "T", D, 0.0)
    dh = np.where(codes == "D", D, 0.0)
    hp = np.where(codes == "H", D, 0.0)
    neg = np.zeros_like(D)
    b = np.where(codes == "B")[0]
    nb = min(len(b), len(block_dh), len(block_tes))
    dh[b[:nb]] = np.asarray(block_dh[:nb], dtype=float)
    neg[b[:nb]] = np.asarray(block_tes[:nb], dtype=float)
    z = np.zeros_like(D)
    r_tes = p.varea(x=x, y1=z, y2=tes, fill_color=C_RED, fill_alpha=0.55)
    r_dh = p.varea(x=x, y1=tes, y2=tes + dh, fill_color=C_LGREEN, fill_alpha=0.6)
    r_hp = p.varea(x=x, y1=tes + dh, y2=tes + dh + hp, fill_color=C_GREEN, fill_alpha=0.58)
    p.varea(x=x, y1=neg, y2=z, fill_color=C_RED, fill_alpha=0.55)
    return x, D, r_tes, r_dh, r_hp


def elec_stack(p, hours, bat, imp, pv, trade, exp):
    x, bat, imp, pv, trade, exp = fit(hours, bat, imp, pv, trade, exp)
    bp, bn = np.maximum(bat, 0), np.minimum(bat, 0)
    tp, tn = np.maximum(trade, 0), np.minimum(trade, 0)
    z = np.zeros_like(x)
    c1 = bp
    c2 = c1 + imp
    c3 = c2 + pv
    c4 = c3 + tp
    r_bat = p.varea(x=x, y1=z, y2=c1, fill_color=C_GREEN, fill_alpha=0.58)
    r_imp = p.varea(x=x, y1=c1, y2=c2, fill_color=C_BLUE, fill_alpha=0.58)
    r_pv = p.varea(x=x, y1=c2, y2=c3, fill_color=C_YELLOW, fill_alpha=0.55)
    r_tr = p.varea(x=x, y1=c3, y2=c4, fill_color=C_RED, fill_alpha=0.55)
    n2 = bn + exp
    n3 = n2 + tn
    p.varea(x=x, y1=bn, y2=z, fill_color=C_GREEN, fill_alpha=0.58)
    r_exp = p.varea(x=x, y1=n2, y2=bn, fill_color=C_ORANGE, fill_alpha=0.6)
    p.varea(x=x, y1=n3, y2=n2, fill_color=C_RED, fill_alpha=0.55)
    return r_bat, r_imp, r_pv, r_exp, r_tr


SP_X = [2300, 2325, 2350, 2375, 2400, 2425, 2450, 2475, 2500]
W_X = [300, 325, 350, 375, 400, 425, 450, 475, 500]
HEAT_TITLE = "Prosumer Heating Management Dispatch. Building 4"
EL_TITLE = "Prosumer Electricity Management Dispatch. Building 4"
PRICE_TITLE = "DH and electricity prices"

# ======================= PANEL 1 : spring heating =======================
f1, l1, r1 = make_fig(376, 390, (26, 35, 18, 24), HEAT_TITLE, (2290, 2509), (-10.74, 14.24), (0, 1),
                      SP_X, 0, [-10, -5, 0, 5, 10], 0, [0, 0.2, 0.4, 0.6, 0.8, 1.0], 1)
x1, D1, r_tes1, r_dh1, r_hp1 = heat_panel(f1, sp_hours, sp_heat_demand, sp_heat_src, sp_dh_block, sp_tes_charge)
r_dem1 = f1.line(x1, D1, line_color="black", line_width=1)
sh, sv = fit(sp_heat_soc_h, sp_heat_soc)
f1.line(sh, sv, y_range_name="r", line_color="red", line_dash="4 2", line_width=1, line_alpha=0.9)
add_legend(f1, [("Heating demand", r_dem1), ("TES", r_tes1), ("Distrit heating import", r_dh1),
                ("HP heat production", r_hp1)], "top_left")
corner_label(l1, "kW", "8.5px", -18)
corner_label(r1, "\n\nSOC", "8.5px", -16)

# ======================= PANEL 2 : spring prices =======================
f2, l2, r2 = make_fig(384, 390, (29, 40, 18, 24), PRICE_TITLE, (2290, 2509), (0.058, 1.029),
                      (341700, 629200), SP_X, 0, [0.2, 0.4, 0.6, 0.8, 1.0], 1,
                      [350000, 400000, 450000, 500000, 550000, 600000], 0)
a, b = fit(sp_dh_price_h, sp_dh_price)
r_dhp2 = f2.line(a, b, line_color="#E24A33", line_width=1)
a, b = fit(sp_el_price_h, sp_import_price)
r_imp2 = f2.line(a, b, line_color="#348ABD", line_width=1)
a, b = fit(sp_el_price_h, sp_export_price)
r_exp2 = f2.line(a, b, line_color="#988ED5", line_width=1, line_alpha=0.8)
a, b = fit(sp_load_h, sp_load)
r_load2 = f2.line(a, b, y_range_name="r", line_color="#1E9A1E", line_dash="4 2", line_width=1)
add_legend(f2, [("District heating", r_dhp2), ("Import Electricity", r_imp2),
                ("Export electricity", r_exp2), ("City load", r_load2)], "top_right")
f2.xaxis[0].major_label_standoff = 2
side_label(f2.xaxis[0], "Hours", 1)
side_label(l2, "SEK/kWh", 2)
corner_label(r2, "kW", "8.5px", -32)

# ======================= PANEL 3 : spring electricity =======================
f3, l3, r3 = make_fig(385, 390, (24, 45, 18, 24), EL_TITLE, (2290, 2509), (-7.88, 12.24), (0.206, 2.606),
                      SP_X, 0, [-7.5, -5.0, -2.5, 0.0, 2.5, 5.0, 7.5, 10.0], 1,
                      [0.5, 1.0, 1.5, 2.0, 2.5], 1)
for gh, gv in ((sp_ghost1_h, sp_ghost1), (sp_ghost2_h, sp_ghost2)):
    a, b = fit(gh, gv)
    f3.varea(x=a, y1=np.zeros_like(a), y2=b, fill_color=C_RED, fill_alpha=0.13)
rb3, ri3, rp3, re3, rt3 = elec_stack(f3, sp_hours, sp_el_battery, sp_el_import, sp_el_pv,
                                     sp_el_trade, sp_el_export)
x3, dem3, dr3, aux3 = fit(sp_hours, sp_el_demand, sp_el_dr, sp_el_aux)
r_aux3 = f3.line(x3, aux3, line_color="red", line_dash="1 1", line_width=0.8, line_alpha=0.7)
r_dr3 = f3.line(x3, dr3, line_color="#333333", line_dash="1 1", line_width=0.8, line_alpha=0.8)
r_dem3 = f3.line(x3, dem3, line_color="black", line_width=1)
a, b = fit(sp_el_soc_h, sp_el_soc)
r_soc3 = f3.line(a, b, y_range_name="r", line_color=C_GREEN, line_dash="3 2", line_width=1)
add_legend(f3, [("Battery", rb3), ("Import", ri3), ("PV", rp3), ("Export", re3), ("SOC", r_soc3),
                ("q: internal trade", rt3), ("Demand", r_dem3), ("Demand + DR", r_dr3),
                ("Demand + DR + Aux HP", r_aux3)], "top_left")
corner_label(l3, "kW", "8.5px", -22)
corner_label(r3, "\nSOC", "8.5px", -16)

# ======================= PANEL 4 : winter heating =======================
f4, l4, r4 = make_fig(380, 400, (30, 31, 19, 29), HEAT_TITLE, (290, 509), (-17.6, 26.8), (0, 1),
                      W_X, 0, [-15, -10, -5, 0, 5, 10, 15, 20, 25], 0, [0, 0.2, 0.4, 0.6, 0.8, 1.0], 1)
x4, D4, r_tes4, r_dh4, r_hp4 = heat_panel(f4, w_hours, w_heat_demand, w_heat_src, [], [])
a, b = fit(w_tes_peak_h, w_tes_peak)
f4.varea(x=a, y1=np.zeros_like(a), y2=b, fill_color=C_RED, fill_alpha=0.55)
l, r, t, bt = fit(w_spike_left, w_spike_right, w_hp_spike_top, w_tes_spike_bottom)
f4.quad(left=l[:5], right=r[:5], bottom=0, top=t[:5], fill_color=C_GREEN_SOLID, line_color=None)
f4.quad(left=l[:5], right=r[:5], bottom=bt[:5], top=0, fill_color=C_RED_SOLID, line_color=None)
f4.quad(left=l[5:], right=r[5:], bottom=0, top=t[5:], fill_color=C_GREEN, fill_alpha=0.3, line_color=None)
f4.quad(left=l[5:], right=r[5:], bottom=bt[5:], top=0, fill_color=C_RED, fill_alpha=0.3, line_color=None)
r_dem4 = f4.line(x4, D4, line_color="black", line_width=1)
a, b = fit(w_heat_soc_h, w_heat_soc)
f4.line(a, b, y_range_name="r", line_color="red", line_dash="4 2", line_width=1, line_alpha=0.9)
add_legend(f4, [("Heating demand", r_dem4), ("TES", r_tes4), ("Distrit heating import", r_dh4),
                ("HP heat production", r_hp4)], "top_left")
corner_label(l4, "kW", "9.5px", -18)
corner_label(r4, "\n\nSOC", "10px", -14)

# ======================= PANEL 5 : winter prices =======================
f5, l5, r5 = make_fig(395, 400, (34, 41, 19, 29), PRICE_TITLE, (290, 509), (0.3125, 2.757),
                      (357100, 657100), W_X, 0, [0.5, 1.0, 1.5, 2.0, 2.5], 1,
                      [400000, 450000, 500000, 550000, 600000, 650000], 0)
a, b = fit(w_dh_price_h, w_dh_price)
r_dhp5 = f5.line(a, b, line_color="#E24A33", line_width=1)
a, b = fit(w_el_price_h, w_import_price)
r_imp5 = f5.line(a, b, line_color="#348ABD", line_width=1)
a, b = fit(w_el_price_h, w_export_price)
r_exp5 = f5.line(a, b, line_color="#988ED5", line_width=1, line_alpha=0.8)
a, b = fit(w_load_h, w_load)
r_load5 = f5.line(a, b, y_range_name="r", line_color="#1E9A1E", line_dash="4 2", line_width=1)
add_legend(f5, [("District heating", r_dhp5), ("Import Electricity", r_imp5),
                ("Export electricity", r_exp5), ("City load", r_load5)], "top_left")
side_label(f5.xaxis[0], "Hours", 2)
side_label(l5, "SEK/kWh", 6)
corner_label(r5, "kW", "9.5px", -33)

# ======================= PANEL 6 : winter electricity =======================
f6, l6, r6 = make_fig(370, 400, (24, 27, 19, 29), EL_TITLE, (290, 509), (-15.24, 21.6), (0.206, 2.597),
                      W_X, 0, [-15, -10, -5, 0, 5, 10, 15, 20], 0, [0.5, 1.0, 1.5, 2.0, 2.5], 1)
x6, imp6, bn6 = fit(w_hours, w_el_import, w_el_battery_charge)
z6 = np.zeros_like(x6)
ri6 = f6.varea(x=x6, y1=z6, y2=imp6, fill_color=C_BLUE, fill_alpha=0.58)
f6.varea(x=x6, y1=bn6, y2=z6, fill_color=C_GREEN, fill_alpha=0.58)
a, t, bt = fit(w_bat_spike_h, w_bat_spike_top, w_bat_spike_bottom)
rb6 = f6.vbar(x=a, width=1.5, top=t, bottom=bt, fill_color=C_GREEN_SOLID, line_color=None)
a, b = fit(w_export_spike_h, w_export_spike)
re6 = f6.vbar(x=a, width=1.5, top=0, bottom=b, fill_color=C_ORANGE_SOLID, line_color=None)
a, b = fit(w_trade_spike_h, w_trade_spike)
rt6 = f6.vbar(x=a, width=1.3, top=0, bottom=b, fill_color=C_RED_SOLID, line_color=None)
rp6 = f6.varea(x=[300, 300], y1=[0, 0], y2=[0, 0], fill_color=C_YELLOW, fill_alpha=0.55)
xw, dem6, dr6, aux6 = fit(w_hours, w_el_demand, w_el_dr, w_el_aux)
r_aux6 = f6.line(xw, aux6, line_color="red", line_dash="1 1", line_width=0.8, line_alpha=0.7)
r_dr6 = f6.line(xw, dr6, line_color="#333333", line_dash="1 1", line_width=0.8, line_alpha=0.8)
r_dem6 = f6.line(xw, dem6, line_color="black", line_width=1)
a, b = fit(w_el_soc_h, w_el_soc)
r_soc6 = f6.line(a, b, y_range_name="r", line_color=C_GREEN, line_dash="3 2", line_width=1)
add_legend(f6, [("Battery", rb6), ("Import", ri6), ("PV", rp6), ("Export", re6), ("SOC", r_soc6),
                ("q: internal trade", rt6), ("Demand", r_dem6), ("Demand + DR", r_dr6),
                ("Demand + DR + Aux HP", r_aux6)], "top_left")
corner_label(l6, "kW", "9.5px", -19)
corner_label(r6, "\nSOC", "10px", -17)


# ======================= CAPTIONS =======================
def caption(h, text, ty, rule):
    c = figure(width=1145, height=h, x_range=Range1d(0, 1145), y_range=Range1d(h, 0),
               output_backend="svg", toolbar_location=None, title=None,
               x_axis_type=None, y_axis_type=None, min_border=0)
    c.grid.visible = False
    c.outline_line_color = None
    c.background_fill_color = "white"
    c.border_fill_color = "white"
    if rule is not None:
        c.add_layout(Span(location=rule, dimension="width", line_color="#9A9A9A", line_width=1))
    c.add_layout(Label(x=575, y=ty, text=text, text_align="center", text_baseline="middle",
                       text_font="Liberation Serif", text_font_size="31px", text_color="black"))
    return c


capA = caption(60, "A. Spring", 38, 8)
capB = caption(50, "B. Winter", 32, None)

layout = column(row(f1, f2, f3), capA, row(f4, f5, f6), capB)
open("out.html", "w").write(file_html(layout, INLINE, "Dispatch"))
